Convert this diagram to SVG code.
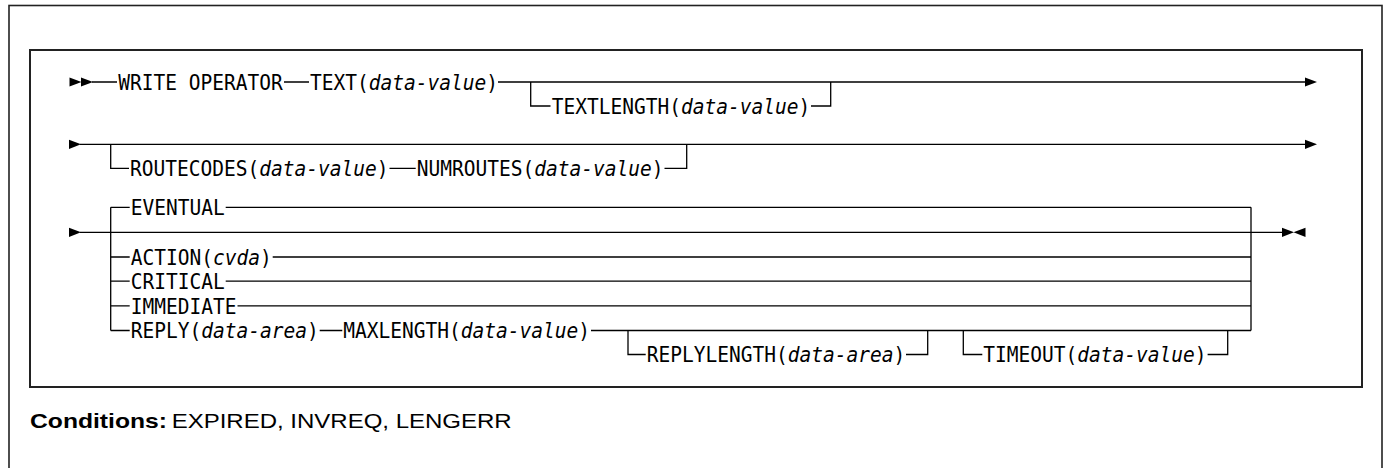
<svg xmlns="http://www.w3.org/2000/svg" width="1385" height="468" viewBox="0 0 1385 468">
  <style>
    .frame { fill: none; stroke: #222; }
    .ln { fill: none; stroke: #000; stroke-width: 1.3; }
    .t { font-family: "DejaVu Sans Mono", "Liberation Mono", monospace; font-size: 21px; fill: #000; }
    .i { font-style: italic; }
    .c { font-family: "Liberation Sans", Arial, sans-serif; font-size: 20.5px; fill: #000; }
    .arr { fill: #000; }
  </style>
  <defs>
    <path id="tri" d="M0,-4.6 L12,0 L0,4.6 Z"/>
  </defs>
  <rect width="1385" height="468" fill="#fff"/>
  <rect class="frame" x="9" y="5.5" width="1373" height="480" stroke-width="1.6"/>
  <rect class="frame" x="30" y="50" width="1332" height="337" stroke-width="2"/>

  <g id="connectors">
    <!-- row 1 -->
    <use href="#tri" class="arr" x="69.5" y="82"/>
    <use href="#tri" class="arr" x="81" y="82"/>
    <path class="ln" d="M92 82 H117 M284 82 H309 M498 82 H1306"/>
    <use href="#tri" class="arr" x="1305" y="82"/>
    <path class="ln" d="M530.7 82 V106 H550.5 M811 106 H830.7 V82"/>
    <!-- row 2 -->
    <use href="#tri" class="arr" x="69" y="144.3"/>
    <path class="ln" d="M80 144.3 H1306"/>
    <use href="#tri" class="arr" x="1305" y="144.3"/>
    <path class="ln" d="M110.7 144.3 V168.3 H129 M389.5 168.3 H415.7 M664.5 168.3 H686.7 V144.3"/>
    <!-- row 3 -->
    <use href="#tri" class="arr" x="69" y="232.3"/>
    <path class="ln" d="M80 232.3 H1283"/>
    <use href="#tri" class="arr" x="1282" y="232.3"/>
    <use href="#tri" class="arr" transform="translate(1305.5 232.3) scale(-1 1)"/>
    <path class="ln" d="M110.7 207.3 V330.5 M1251 207.3 V330.5"/>
    <path class="ln" d="M110.7 207.3 H129.7 M225.7 207.3 H1251"/>
    <path class="ln" d="M110.7 257 H129.7 M272.7 257 H1251"/>
    <path class="ln" d="M110.7 281.2 H129.7 M225.7 281.2 H1251"/>
    <path class="ln" d="M110.7 305.9 H129.7 M237.5 305.9 H1251"/>
    <path class="ln" d="M110.7 330.5 H129.7 M319.7 330.5 H342.3 M591 330.5 H1251"/>
    <path class="ln" d="M628 330.5 V354.5 H645.7 M906 354.5 H927.7 V330.5"/>
    <path class="ln" d="M963.3 330.5 V354.5 H982.3 M1207.6 354.5 H1227.7 V330.5"/>
  </g>

  <g id="n-write"><text class="t" transform="translate(118.3 89.5) scale(0.9293 1)">WRITE OPERATOR</text></g>
  <g id="n-text"><text class="t" transform="translate(310 89.5) scale(0.9293 1)">TEXT(<tspan class="i">data-value</tspan>)</text></g>
  <g id="n-textlength"><text class="t" transform="translate(551.7 113.5) scale(0.9293 1)">TEXTLENGTH(<tspan class="i">data-value</tspan>)</text></g>
  <g id="n-routecodes"><text class="t" transform="translate(130 175.8) scale(0.9293 1)">ROUTECODES(<tspan class="i">data-value</tspan>)</text></g>
  <g id="n-numroutes"><text class="t" transform="translate(416.7 175.8) scale(0.9293 1)">NUMROUTES(<tspan class="i">data-value</tspan>)</text></g>
  <g id="n-eventual"><text class="t" transform="translate(130.7 214.9) scale(0.9293 1)">EVENTUAL</text></g>
  <g id="n-action"><text class="t" transform="translate(130.7 264.6) scale(0.9293 1)">ACTION(<tspan class="i">cvda</tspan>)</text></g>
  <g id="n-critical"><text class="t" transform="translate(130.7 288.8) scale(0.9293 1)">CRITICAL</text></g>
  <g id="n-immediate"><text class="t" transform="translate(130.7 313.5) scale(0.9293 1)">IMMEDIATE</text></g>
  <g id="n-reply"><text class="t" transform="translate(130.7 338.1) scale(0.9293 1)">REPLY(<tspan class="i">data-area</tspan>)</text></g>
  <g id="n-maxlength"><text class="t" transform="translate(343.3 338.1) scale(0.9293 1)">MAXLENGTH(<tspan class="i">data-value</tspan>)</text></g>
  <g id="n-replylength"><text class="t" transform="translate(646.7 362.1) scale(0.9293 1)">REPLYLENGTH(<tspan class="i">data-area</tspan>)</text></g>
  <g id="n-timeout"><text class="t" transform="translate(983.3 362.1) scale(0.9293 1)">TIMEOUT(<tspan class="i">data-value</tspan>)</text></g>

  <g id="conditions">
    <text class="c" x="30" y="427.7" font-weight="bold" textLength="137" lengthAdjust="spacingAndGlyphs">Conditions:</text>
    <text class="c" x="171.7" y="427.7" textLength="340" lengthAdjust="spacingAndGlyphs">EXPIRED, INVREQ, LENGERR</text>
  </g>
</svg>
